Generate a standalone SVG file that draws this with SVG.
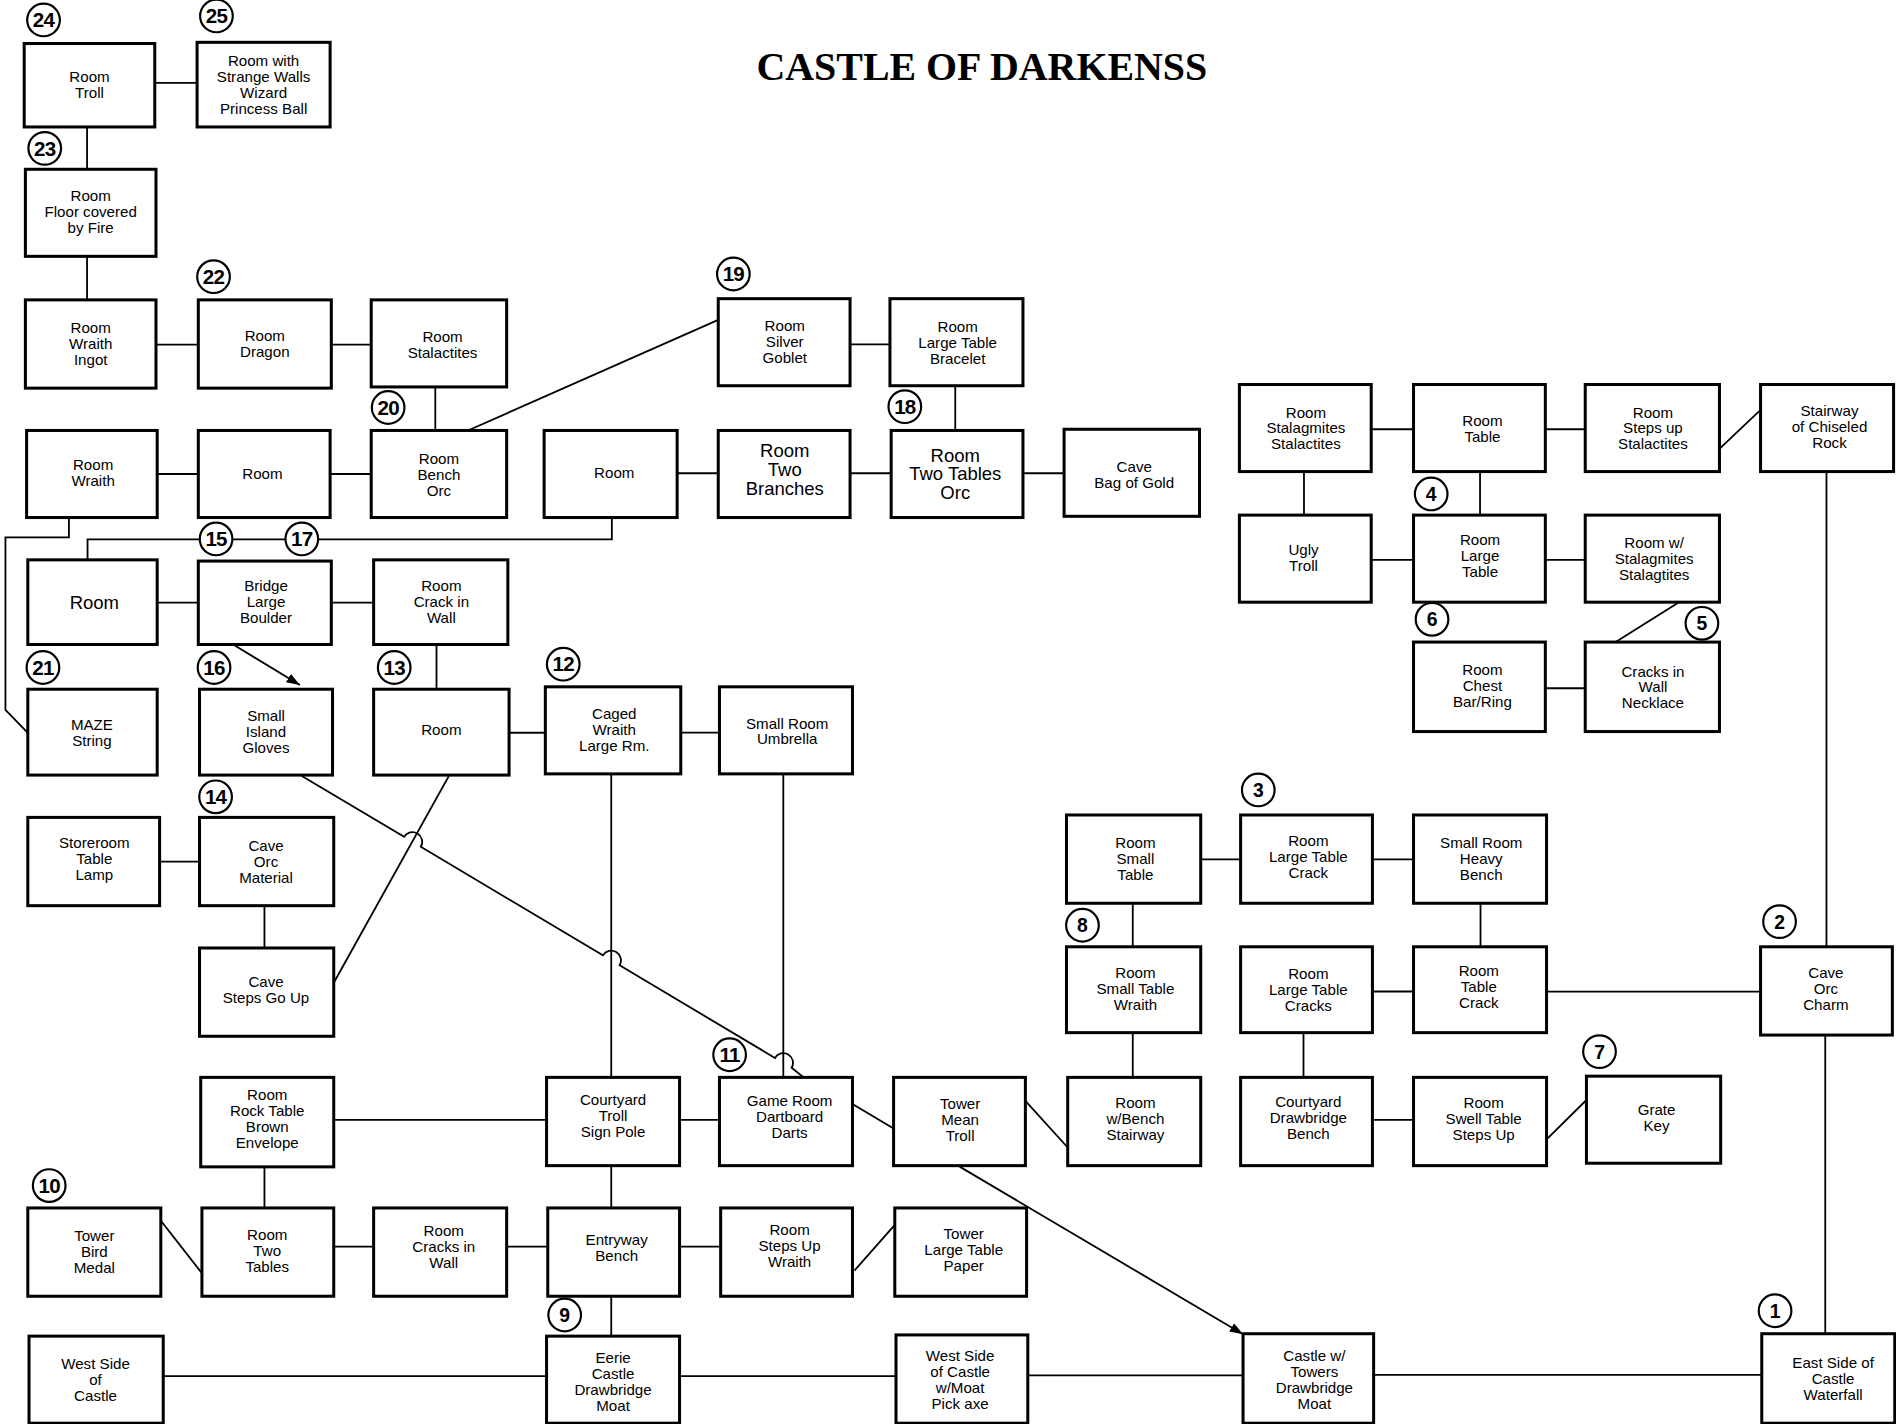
<svg xmlns="http://www.w3.org/2000/svg" width="1896" height="1424" viewBox="0 0 1896 1424">
<style>
.box{fill:#fff;stroke:#000;stroke-width:2.5}
.c{fill:none;stroke:#000;stroke-width:1.5}
.t{font-family:"Liberation Sans",Arial,Helvetica,sans-serif;font-size:12.5px;text-anchor:middle;fill:#000}
.tl{font-size:15.3px}
.bc{fill:#fff;stroke:#000;stroke-width:1.8}
.bt{font-family:"Liberation Sans",Arial,Helvetica,sans-serif;font-weight:bold;font-size:16px;text-anchor:middle;fill:#000}
.b2{font-size:17px;letter-spacing:-0.6px}
.title{font-family:"Liberation Serif","Times New Roman",serif;font-weight:bold;font-size:33px;text-anchor:middle;fill:#000}
</style>
<defs>
<marker id="ah" markerUnits="userSpaceOnUse" markerWidth="12" markerHeight="8" refX="11" refY="4" orient="auto">
<path d="M0,0 L11,4 L0,8 z" fill="#000"/>
</marker>
</defs>
<rect width="1896" height="1424" fill="#fff"/>
<g transform="scale(1.20918)">
<text id="title" class="title" x="812" y="66">CASTLE OF DARKENSS</text>

<g id="connectors">
<path class="c" d="M128,68.5H163"/>
<path class="c" d="M72,105V140"/>
<path class="c" d="M72,212V248"/>
<path class="c" d="M129,285H164"/>
<path class="c" d="M274,285H307"/>
<path class="c" d="M360,320V356"/>
<path class="c" d="M387,356L594,264.6"/>
<path class="c" d="M703,284.8H736"/>
<path class="c" d="M790,319V356"/>
<path class="c" d="M130,392H164"/>
<path class="c" d="M273,392H307"/>
<path class="c" d="M560,391.4H594"/>
<path class="c" d="M703,391.4H737"/>
<path class="c" d="M846,391.4H880"/>
<path class="c" d="M506,428V446H72.4V463"/>
<path class="c" d="M57,428V444.4H4.5V587L23,606"/>
<path class="c" d="M130,498.4H164"/>
<path class="c" d="M274,498.4H309"/>
<path class="c" d="M193.5,533.4L248,566.5" marker-end="url(#ah)"/>
<path class="c" d="M361,533V570"/>
<path class="c" d="M421,606H451"/>
<path class="c" d="M563,605.9H595"/>
<path class="c" d="M132,712.6H165"/>
<path class="c" d="M218.7,749V784"/>
<path class="c" d="M275.8,813.2L371.6,641"/>
<path class="c" d="M249.6,641.7L334.2,692.1A8,8 0 0 1 348,700.3L498.6,790.1A8,8 0 0 1 512.4,798.3L640.9,874.9A8,8 0 0 1 654.7,883.1L664.6,891"/>
<path class="c" d="M505.5,640V891"/>
<path class="c" d="M647.8,640V891"/>
<path class="c" d="M276,926.2H452"/>
<path class="c" d="M562,926.2H595"/>
<path class="c" d="M705,913L739,933.3"/>
<path class="c" d="M848,910.5L883,949"/>
<path class="c" d="M793.6,964.8L1028,1103.4" marker-end="url(#ah)"/>
<path class="c" d="M993,710.7H1026"/>
<path class="c" d="M1135,710.7H1169"/>
<path class="c" d="M936.8,747V783"/>
<path class="c" d="M936.8,854V891"/>
<path class="c" d="M1224.4,747V783"/>
<path class="c" d="M1135,820H1169"/>
<path class="c" d="M1279,820.1H1456"/>
<path class="c" d="M1078,854V891"/>
<path class="c" d="M1135,926.2H1169"/>
<path class="c" d="M1279.9,941.4L1312,909.7"/>
<path class="c" d="M1510.5,390V783"/>
<path class="c" d="M1509.5,856V1103"/>
<path class="c" d="M1422.4,370.8L1456,339"/>
<path class="c" d="M1134,355H1169"/>
<path class="c" d="M1278,355H1311"/>
<path class="c" d="M1078.4,390V426"/>
<path class="c" d="M1224,390V426"/>
<path class="c" d="M1134,463H1169"/>
<path class="c" d="M1278,463H1311"/>
<path class="c" d="M1388.5,498L1336.2,531"/>
<path class="c" d="M1278,569.2H1311"/>
<path class="c" d="M218.7,965V999"/>
<path class="c" d="M133.4,1010L167,1053"/>
<path class="c" d="M276,1031H309"/>
<path class="c" d="M419,1031H453"/>
<path class="c" d="M505.5,964V999"/>
<path class="c" d="M562,1031H596"/>
<path class="c" d="M706.6,1050.8L740,1013"/>
<path class="c" d="M505.5,1072V1105"/>
<path class="c" d="M135,1138H452"/>
<path class="c" d="M562,1138H741"/>
<path class="c" d="M850,1137.5H1028"/>
<path class="c" d="M1136,1137.1H1457"/>
</g>

<g id="n24"><rect class="box" x="20" y="36" width="108" height="69"/><text class="t" x="74" y="67.5"><tspan x="74">Room</tspan><tspan x="74" dy="13.2">Troll</tspan></text></g>
<g id="n25"><rect class="box" x="163" y="35" width="110" height="70"/><text class="t" x="218" y="54.7"><tspan x="218">Room with</tspan><tspan x="218" dy="13.2">Strange Walls</tspan><tspan x="218" dy="13.2">Wizard</tspan><tspan x="218" dy="13.2">Princess  Ball</tspan></text></g>
<g id="n23"><rect class="box" x="21" y="140" width="108" height="72"/><text class="t" x="75" y="166"><tspan x="75">Room</tspan><tspan x="75" dy="13.2">Floor covered</tspan><tspan x="75" dy="13.2">by Fire</tspan></text></g>
<g id="n-wraith-ingot"><rect class="box" x="21" y="248" width="108" height="73"/><text class="t" x="75" y="275.8"><tspan x="75">Room</tspan><tspan x="75" dy="13.2">Wraith</tspan><tspan x="75" dy="13.2">Ingot</tspan></text></g>
<g id="n22"><rect class="box" x="164" y="248" width="110" height="73"/><text class="t" x="219" y="282.4"><tspan x="219">Room</tspan><tspan x="219" dy="13.2">Dragon</tspan></text></g>
<g id="n-stalactites"><rect class="box" x="307" y="248" width="112" height="72"/><text class="t" x="366" y="283"><tspan x="366">Room</tspan><tspan x="366" dy="13.2">Stalactites</tspan></text></g>
<g id="n19"><rect class="box" x="594" y="247" width="109" height="72"/><text class="t" x="649" y="273.5"><tspan x="649">Room</tspan><tspan x="649" dy="13.2">Silver</tspan><tspan x="649" dy="13.2">Goblet</tspan></text></g>
<g id="n-bracelet"><rect class="box" x="736" y="247" width="110" height="72"/><text class="t" x="792" y="274.5"><tspan x="792">Room</tspan><tspan x="792" dy="13.2">Large Table</tspan><tspan x="792" dy="13.2">Bracelet</tspan></text></g>

<g id="n-room-wraith"><rect class="box" x="22" y="356" width="108" height="72"/><text class="t" x="77" y="388.5"><tspan x="77">Room</tspan><tspan x="77" dy="13.2">Wraith</tspan></text></g>
<g id="n-room-b3"><rect class="box" x="164" y="356" width="109" height="72"/><text class="t" x="217" y="396.5">Room</text></g>
<g id="n20"><rect class="box" x="307" y="356" width="112" height="72"/><text class="t" x="363" y="384"><tspan x="363">Room</tspan><tspan x="363" dy="13.2">Bench</tspan><tspan x="363" dy="13.2">Orc</tspan></text></g>
<g id="n-room-d3"><rect class="box" x="450" y="356" width="110" height="72"/><text class="t" x="508" y="395.5">Room</text></g>
<g id="n-two-branches"><rect class="box" x="594" y="356" width="109" height="72"/><text class="t tl" x="649" y="378"><tspan x="649">Room</tspan><tspan x="649" dy="15.5">Two</tspan><tspan x="649" dy="15.5">Branches</tspan></text></g>
<g id="n18"><rect class="box" x="737" y="356" width="109" height="72"/><text class="t tl" x="790" y="382"><tspan x="790">Room</tspan><tspan x="790" dy="15.2">Two Tables</tspan><tspan x="790" dy="15.2">Orc</tspan></text></g>
<g id="n-bag-gold"><rect class="box" x="880" y="355" width="112" height="72"/><text class="t" x="938" y="390.5"><tspan x="938">Cave</tspan><tspan x="938" dy="13.2">Bag of Gold</tspan></text></g>

<g id="n-stalag-stalac"><rect class="box" x="1025" y="318" width="109" height="72"/><text class="t" x="1080" y="345.3"><tspan x="1080">Room</tspan><tspan x="1080" dy="13.2">Stalagmites</tspan><tspan x="1080" dy="13.2">Stalactites</tspan></text></g>
<g id="n-room-table"><rect class="box" x="1169" y="318" width="109" height="72"/><text class="t" x="1226" y="352.5"><tspan x="1226">Room</tspan><tspan x="1226" dy="13.2">Table</tspan></text></g>
<g id="n-steps-up"><rect class="box" x="1311" y="318" width="111" height="72"/><text class="t" x="1367" y="345.3"><tspan x="1367">Room</tspan><tspan x="1367" dy="13.2">Steps up</tspan><tspan x="1367" dy="13.2">Stalactites</tspan></text></g>
<g id="n-stairway"><rect class="box" x="1456" y="318" width="110" height="72"/><text class="t" x="1513" y="344"><tspan x="1513">Stairway</tspan><tspan x="1513" dy="13.2">of Chiseled</tspan><tspan x="1513" dy="13.2">Rock</tspan></text></g>

<g id="n-room-a4"><rect class="box" x="23" y="463" width="107" height="70"/><text class="t tl" x="78" y="503.5">Room</text></g>
<g id="n-bridge"><rect class="box" x="164" y="464" width="110" height="69"/><text class="t" x="220" y="489"><tspan x="220">Bridge</tspan><tspan x="220" dy="13.2">Large</tspan><tspan x="220" dy="13.2">Boulder</tspan></text></g>
<g id="n-crack-wall"><rect class="box" x="309" y="463" width="111" height="70"/><text class="t" x="365" y="489"><tspan x="365">Room</tspan><tspan x="365" dy="13.2">Crack in</tspan><tspan x="365" dy="13.2">Wall</tspan></text></g>

<g id="n-ugly-troll"><rect class="box" x="1025" y="426" width="109" height="72"/><text class="t" x="1078" y="459"><tspan x="1078">Ugly</tspan><tspan x="1078" dy="13.2">Troll</tspan></text></g>
<g id="n4"><rect class="box" x="1169" y="426" width="109" height="72"/><text class="t" x="1224" y="451"><tspan x="1224">Room</tspan><tspan x="1224" dy="13.2">Large</tspan><tspan x="1224" dy="13.2">Table</tspan></text></g>
<g id="n-stalag-w"><rect class="box" x="1311" y="426" width="111" height="72"/><text class="t" x="1368" y="453.5"><tspan x="1368">Room w/</tspan><tspan x="1368" dy="13.2">Stalagmites</tspan><tspan x="1368" dy="13.2">Stalagtites</tspan></text></g>

<g id="n21"><rect class="box" x="23" y="570" width="107" height="71"/><text class="t" x="76" y="603.5"><tspan x="76">MAZE</tspan><tspan x="76" dy="13.2">String</tspan></text></g>
<g id="n16"><rect class="box" x="165" y="570" width="110" height="71"/><text class="t" x="220" y="596"><tspan x="220">Small</tspan><tspan x="220" dy="13.2">Island</tspan><tspan x="220" dy="13.2">Gloves</tspan></text></g>
<g id="n13"><rect class="box" x="309" y="570" width="112" height="71"/><text class="t" x="365" y="608">Room</text></g>
<g id="n12"><rect class="box" x="451" y="568" width="112" height="72"/><text class="t" x="508" y="595"><tspan x="508">Caged</tspan><tspan x="508" dy="13.2">Wraith</tspan><tspan x="508" dy="13.2">Large Rm.</tspan></text></g>
<g id="n-umbrella"><rect class="box" x="595" y="568" width="110" height="72"/><text class="t" x="651" y="602.5"><tspan x="651">Small Room</tspan><tspan x="651" dy="13.2">Umbrella</tspan></text></g>

<g id="n6"><rect class="box" x="1169" y="531" width="109" height="74"/><text class="t" x="1226" y="558"><tspan x="1226">Room</tspan><tspan x="1226" dy="13.2">Chest</tspan><tspan x="1226" dy="13.2">Bar/Ring</tspan></text></g>
<g id="n5"><rect class="box" x="1311" y="531" width="111" height="74"/><text class="t" x="1367" y="559.5"><tspan x="1367">Cracks in</tspan><tspan x="1367" dy="13.2">Wall</tspan><tspan x="1367" dy="13.2">Necklace</tspan></text></g>

<g id="n-storeroom"><rect class="box" x="23" y="676" width="109" height="73"/><text class="t" x="78" y="701"><tspan x="78">Storeroom</tspan><tspan x="78" dy="13.2">Table</tspan><tspan x="78" dy="13.2">Lamp</tspan></text></g>
<g id="n14"><rect class="box" x="165" y="676" width="111" height="73"/><text class="t" x="220" y="703.5"><tspan x="220">Cave</tspan><tspan x="220" dy="13.2">Orc</tspan><tspan x="220" dy="13.2">Material</tspan></text></g>
<g id="n-small-table"><rect class="box" x="882" y="674" width="111" height="73"/><text class="t" x="939" y="701"><tspan x="939">Room</tspan><tspan x="939" dy="13.2">Small</tspan><tspan x="939" dy="13.2">Table</tspan></text></g>
<g id="n3"><rect class="box" x="1026" y="674" width="109" height="73"/><text class="t" x="1082" y="700"><tspan x="1082">Room</tspan><tspan x="1082" dy="13.2">Large Table</tspan><tspan x="1082" dy="13.2">Crack</tspan></text></g>
<g id="n-heavy-bench"><rect class="box" x="1169" y="674" width="110" height="73"/><text class="t" x="1225" y="701.5"><tspan x="1225">Small Room</tspan><tspan x="1225" dy="13.2">Heavy</tspan><tspan x="1225" dy="13.2">Bench</tspan></text></g>

<g id="n-steps-go-up"><rect class="box" x="165" y="784" width="111" height="73"/><text class="t" x="220" y="816.5"><tspan x="220">Cave</tspan><tspan x="220" dy="13.2">Steps Go Up</tspan></text></g>
<g id="n8"><rect class="box" x="882" y="783" width="111" height="71"/><text class="t" x="939" y="808.5"><tspan x="939">Room</tspan><tspan x="939" dy="13.2">Small Table</tspan><tspan x="939" dy="13.2">Wraith</tspan></text></g>
<g id="n-lt-cracks"><rect class="box" x="1026" y="783" width="109" height="71"/><text class="t" x="1082" y="809.5"><tspan x="1082">Room</tspan><tspan x="1082" dy="13.2">Large Table</tspan><tspan x="1082" dy="13.2">Cracks</tspan></text></g>
<g id="n-table-crack"><rect class="box" x="1169" y="783" width="110" height="71"/><text class="t" x="1223" y="807.5"><tspan x="1223">Room</tspan><tspan x="1223" dy="13.2">Table</tspan><tspan x="1223" dy="13.2">Crack</tspan></text></g>
<g id="n2"><rect class="box" x="1456" y="783" width="109" height="73"/><text class="t" x="1510" y="808.5"><tspan x="1510">Cave</tspan><tspan x="1510" dy="13.2">Orc</tspan><tspan x="1510" dy="13.2">Charm</tspan></text></g>

<g id="n-rock-table"><rect class="box" x="166" y="891" width="110" height="74"/><text class="t" x="221" y="909.5"><tspan x="221">Room</tspan><tspan x="221" dy="13.2">Rock Table</tspan><tspan x="221" dy="13.2">Brown</tspan><tspan x="221" dy="13.2">Envelope</tspan></text></g>
<g id="n-courtyard-troll"><rect class="box" x="452" y="891" width="110" height="73"/><text class="t" x="507" y="913.5"><tspan x="507">Courtyard</tspan><tspan x="507" dy="13.2">Troll</tspan><tspan x="507" dy="13.2">Sign Pole</tspan></text></g>
<g id="n11"><rect class="box" x="595" y="891" width="110" height="73"/><text class="t" x="653" y="914.5"><tspan x="653">Game Room</tspan><tspan x="653" dy="13.2">Dartboard</tspan><tspan x="653" dy="13.2">Darts</tspan></text></g>
<g id="n-tower-mean"><rect class="box" x="739" y="891" width="109" height="73"/><text class="t" x="794" y="917.5"><tspan x="794">Tower</tspan><tspan x="794" dy="13.2">Mean</tspan><tspan x="794" dy="13.2">Troll</tspan></text></g>
<g id="n-bench-stairway"><rect class="box" x="883" y="891" width="110" height="73"/><text class="t" x="939" y="916.5"><tspan x="939">Room</tspan><tspan x="939" dy="13.2">w/Bench</tspan><tspan x="939" dy="13.2">Stairway</tspan></text></g>
<g id="n-courtyard-draw"><rect class="box" x="1026" y="891" width="109" height="73"/><text class="t" x="1082" y="915.5"><tspan x="1082">Courtyard</tspan><tspan x="1082" dy="13.2">Drawbridge</tspan><tspan x="1082" dy="13.2">Bench</tspan></text></g>
<g id="n-swell"><rect class="box" x="1169" y="891" width="110" height="73"/><text class="t" x="1227" y="916.5"><tspan x="1227">Room</tspan><tspan x="1227" dy="13.2">Swell Table</tspan><tspan x="1227" dy="13.2">Steps Up</tspan></text></g>
<g id="n7"><rect class="box" x="1312" y="890" width="111" height="72"/><text class="t" x="1370" y="922.5"><tspan x="1370">Grate</tspan><tspan x="1370" dy="13.2">Key</tspan></text></g>

<g id="n10"><rect class="box" x="23" y="999" width="110" height="73"/><text class="t" x="78" y="1026.5"><tspan x="78">Tower</tspan><tspan x="78" dy="13.2">Bird</tspan><tspan x="78" dy="13.2">Medal</tspan></text></g>
<g id="n-two-tables"><rect class="box" x="167" y="999" width="109" height="73"/><text class="t" x="221" y="1025.5"><tspan x="221">Room</tspan><tspan x="221" dy="13.2">Two</tspan><tspan x="221" dy="13.2">Tables</tspan></text></g>
<g id="n-cracks-wall"><rect class="box" x="309" y="999" width="110" height="73"/><text class="t" x="367" y="1022.5"><tspan x="367">Room</tspan><tspan x="367" dy="13.2">Cracks in</tspan><tspan x="367" dy="13.2">Wall</tspan></text></g>
<g id="n-entryway"><rect class="box" x="453" y="999" width="109" height="73"/><text class="t" x="510" y="1029.5"><tspan x="510">Entryway</tspan><tspan x="510" dy="13.2">Bench</tspan></text></g>
<g id="n-steps-wraith"><rect class="box" x="596" y="999" width="109" height="73"/><text class="t" x="653" y="1021.5"><tspan x="653">Room</tspan><tspan x="653" dy="13.2">Steps Up</tspan><tspan x="653" dy="13.2">Wraith</tspan></text></g>
<g id="n-tower-paper"><rect class="box" x="740" y="999" width="109" height="73"/><text class="t" x="797" y="1024.5"><tspan x="797">Tower</tspan><tspan x="797" dy="13.2">Large Table</tspan><tspan x="797" dy="13.2">Paper</tspan></text></g>

<g id="n-west-side"><rect class="box" x="24" y="1105" width="111" height="72"/><text class="t" x="79" y="1132.5"><tspan x="79">West Side</tspan><tspan x="79" dy="13.2">of</tspan><tspan x="79" dy="13.2">Castle</tspan></text></g>
<g id="n9"><rect class="box" x="452" y="1105" width="110" height="72"/><text class="t" x="507" y="1127.5"><tspan x="507">Eerie</tspan><tspan x="507" dy="13.2">Castle</tspan><tspan x="507" dy="13.2">Drawbridge</tspan><tspan x="507" dy="13.2">Moat</tspan></text></g>
<g id="n-west-moat"><rect class="box" x="741" y="1104" width="109" height="73"/><text class="t" x="794" y="1125.5"><tspan x="794">West Side</tspan><tspan x="794" dy="13.2">of Castle</tspan><tspan x="794" dy="13.2">w/Moat</tspan><tspan x="794" dy="13.2">Pick axe</tspan></text></g>
<g id="n-castle-towers"><rect class="box" x="1028" y="1103" width="108" height="74"/><text class="t" x="1087" y="1125.5"><tspan x="1087">Castle w/</tspan><tspan x="1087" dy="13.2">Towers</tspan><tspan x="1087" dy="13.2">Drawbridge</tspan><tspan x="1087" dy="13.2">Moat</tspan></text></g>
<g id="n1"><rect class="box" x="1457" y="1103" width="110" height="74"/><text class="t" x="1516" y="1131.5"><tspan x="1516">East Side of</tspan><tspan x="1516" dy="13.2">Castle</tspan><tspan x="1516" dy="13.2">Waterfall</tspan></text></g>

<g id="badges">
<g><circle class="bc" cx="36" cy="16.5" r="13.5"/><text class="bt b2" x="36" y="22.5">24</text></g>
<g><circle class="bc" cx="179" cy="13.2" r="13.5"/><text class="bt b2" x="179" y="19.2">25</text></g>
<g><circle class="bc" cx="37" cy="122.7" r="13.5"/><text class="bt b2" x="37" y="128.7">23</text></g>
<g><circle class="bc" cx="176.6" cy="228.8" r="13.5"/><text class="bt b2" x="176.6" y="234.8">22</text></g>
<g><circle class="bc" cx="321" cy="337" r="13.5"/><text class="bt b2" x="321" y="343">20</text></g>
<g><circle class="bc" cx="606.5" cy="226.6" r="13.5"/><text class="bt b2" x="606.5" y="232.6">19</text></g>
<g><circle class="bc" cx="748.3" cy="336.3" r="13.5"/><text class="bt b2" x="748.3" y="342.3">18</text></g>
<g><circle class="bc" cx="178.7" cy="445.7" r="13.5"/><text class="bt b2" x="178.7" y="451.7">15</text></g>
<g><circle class="bc" cx="249.6" cy="445.7" r="13.5"/><text class="bt b2" x="249.6" y="451.7">17</text></g>
<g><circle class="bc" cx="35.5" cy="552" r="13.5"/><text class="bt b2" x="35.5" y="558">21</text></g>
<g><circle class="bc" cx="177" cy="552" r="13.5"/><text class="bt b2" x="177" y="558">16</text></g>
<g><circle class="bc" cx="326" cy="552" r="13.5"/><text class="bt b2" x="326" y="558">13</text></g>
<g><circle class="bc" cx="465.8" cy="549.3" r="13.5"/><text class="bt b2" x="465.8" y="555.3">12</text></g>
<g><circle class="bc" cx="178.3" cy="659" r="13.5"/><text class="bt b2" x="178.3" y="665">14</text></g>
<g><circle class="bc" cx="603.4" cy="872.3" r="13.5"/><text class="bt b2" x="603.4" y="878.3">11</text></g>
<g><circle class="bc" cx="40.7" cy="980.5" r="13.5"/><text class="bt b2" x="40.7" y="986.5">10</text></g>
<g><circle class="bc" cx="467" cy="1087.5" r="13.5"/><text class="bt" x="467" y="1093.3">9</text></g>
<g><circle class="bc" cx="1468" cy="1084" r="13.5"/><text class="bt" x="1468" y="1089.8">1</text></g>
<g><circle class="bc" cx="1471.7" cy="762.2" r="13.5"/><text class="bt" x="1471.7" y="768">2</text></g>
<g><circle class="bc" cx="1040.6" cy="653.3" r="13.5"/><text class="bt" x="1040.6" y="659.1">3</text></g>
<g><circle class="bc" cx="1183.6" cy="408.5" r="13.5"/><text class="bt" x="1183.6" y="414.3">4</text></g>
<g><circle class="bc" cx="1407.5" cy="515.5" r="13.5"/><text class="bt" x="1407.5" y="521.3">5</text></g>
<g><circle class="bc" cx="1184.3" cy="512.2" r="13.5"/><text class="bt" x="1184.3" y="518">6</text></g>
<g><circle class="bc" cx="1322.8" cy="869.7" r="13.5"/><text class="bt" x="1322.8" y="875.5">7</text></g>
<g><circle class="bc" cx="895.2" cy="765.2" r="13.5"/><text class="bt" x="895.2" y="771">8</text></g>
</g>
</g>
</svg>
